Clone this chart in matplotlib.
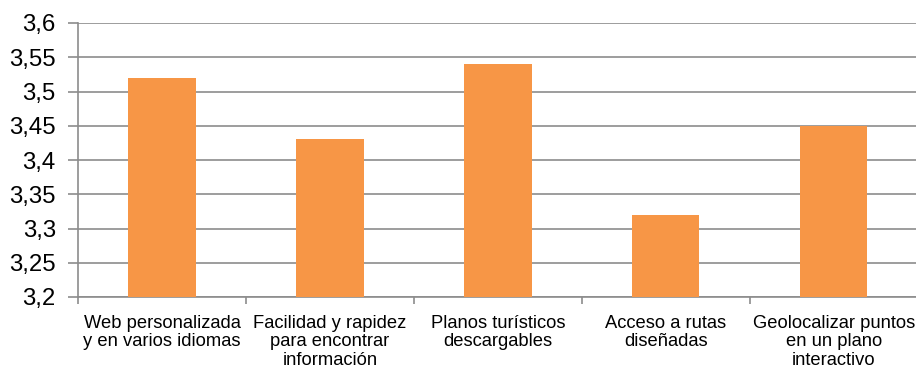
import matplotlib
matplotlib.use("Agg")
import matplotlib.pyplot as plt
from matplotlib.ticker import FixedLocator, FuncFormatter

categories = ["Web personalizada\ny en varios idiomas",
              "Facilidad y rapidez\npara encontrar\ninformación",
              "Planos turísticos\ndescargables",
              "Acceso a rutas\ndiseñadas",
              "Geolocalizar puntos\nen un plano\ninteractivo"]
values = [3.52, 3.43, 3.54, 3.32, 3.45]
yticks = [3.2, 3.25, 3.3, 3.35, 3.4, 3.45, 3.5, 3.55, 3.6]

plt.rcParams['font.family'] = ['Liberation Sans', 'DejaVu Sans']

fig = plt.figure(figsize=(9.16, 3.7), dpi=100)
ax = fig.add_axes([78/916, 1-297/370, 1-78/916+0.002, (297-23)/370])

x = list(range(len(categories)))
ax.bar(x, values, width=0.4, color='#F79646', zorder=3)
ax.set_xlim(-0.5, len(categories)-0.5)
ax.set_ylim(3.2, 3.6)
ax.set_yticks(yticks)
ax.yaxis.set_major_formatter(FuncFormatter(lambda v, p: (f"{v:.2f}".rstrip('0').rstrip('.')).replace('.', ',')))
ax.grid(axis='y', color='#8c8c8c', linewidth=1.2, zorder=0)

ax.set_xticks(x)
ax.set_xticklabels(categories, fontsize=13.2, linespacing=1.1)
ax.tick_params(axis='x', length=0, pad=13)
ax.xaxis.set_minor_locator(FixedLocator([i + 0.5 for i in range(-1, len(categories))]))
ax.tick_params(axis='x', which='minor', length=5, color='#8c8c8c', width=1.2)
ax.tick_params(axis='y', labelsize=17.3, length=7, color='#8c8c8c', width=1.2, pad=9)

for s in ['top', 'right']:
    ax.spines[s].set_visible(False)
for s in ['left', 'bottom']:
    ax.spines[s].set_color('#8c8c8c')
    ax.spines[s].set_linewidth(1.2)

fig.savefig("out.png", dpi=100)
